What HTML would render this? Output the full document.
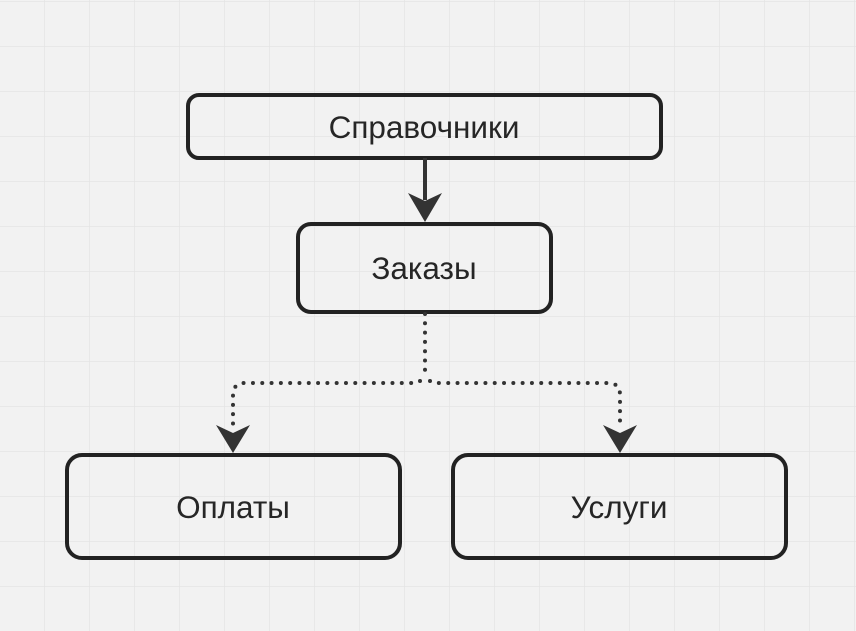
<!DOCTYPE html>
<html><head><meta charset="utf-8"><style>
html,body{margin:0;padding:0;background:#f2f2f2;}
svg{display:block}
text{font-family:"Liberation Sans","DejaVu Sans",sans-serif;font-size:31.5px;fill:#262626;}
</style></head><body>
<svg width="856" height="631" viewBox="0 0 856 631" xmlns="http://www.w3.org/2000/svg">
<defs>
<pattern id="g" x="-1" y="1" width="45" height="45" patternUnits="userSpaceOnUse">
<path d="M0 0H45M0 0V45" stroke="#e4e4e4" stroke-width="1.5" fill="none"/>
</pattern>
</defs>
<rect width="856" height="631" fill="#f2f2f2"/>
<rect width="856" height="631" fill="url(#g)"/>
<g fill="none" stroke="#222" stroke-width="4">
<rect x="188" y="95" width="473" height="63" rx="11"/>
<rect x="298" y="224" width="253" height="88" rx="13"/>
<rect x="67" y="455" width="333" height="103" rx="15"/>
<rect x="453" y="455" width="333" height="103" rx="15"/>
</g>
<line x1="425" y1="158" x2="425" y2="200" stroke="#333" stroke-width="4"/>
<path d="M408 193 L425 201 L442 193 L425 222 Z" fill="#333"/>
<g fill="none" stroke="#333" stroke-width="4" stroke-linecap="round" stroke-dasharray="0 9.3">
<path d="M425 314 V377"/>
<path d="M420 381 Q418 383 410 383 H245 Q233 383 233 395 V425"/>
<path d="M430 381 Q432 383 440 383 H608 Q620 383 620 395 V425"/>
</g>
<path d="M216 425 L233 433 L250 425 L233 453 Z" fill="#333"/>
<path d="M603 425 L620 433 L637 425 L620 453 Z" fill="#333"/>
<text x="424" y="138" text-anchor="middle">Справочники</text>
<text x="424" y="279" text-anchor="middle">Заказы</text>
<text x="233" y="518" text-anchor="middle">Оплаты</text>
<text x="619" y="518" text-anchor="middle">Услуги</text>
</svg>
</body></html>
